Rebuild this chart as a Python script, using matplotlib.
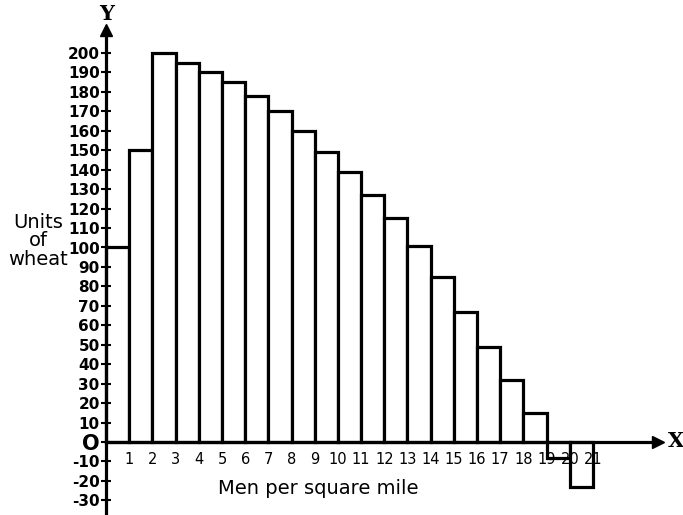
import matplotlib
matplotlib.use('Agg')
import matplotlib.pyplot as plt

# Men per square mile (left edge of each bar) and units of wheat
men = [0, 1, 2, 3, 4, 5, 6, 7, 8, 9, 10, 11, 12, 13, 14, 15, 16, 17, 18, 19, 20]
wheat = [100, 150, 200, 195, 190, 185, 178, 170, 160, 149, 139, 127, 115, 101,
         85, 67, 49, 32, 15, -8, -23]
x_ticks = [1, 2, 3, 4, 5, 6, 7, 8, 9, 10, 11, 12, 13, 14, 15, 16, 17, 18, 19, 20, 21]
y_ticks = [-30, -20, -10, 0, 10, 20, 30, 40, 50, 60, 70, 80, 90, 100,
           110, 120, 130, 140, 150, 160, 170, 180, 190, 200]

W, H = 683, 515
fig = plt.figure(figsize=(W / 100, H / 100), dpi=100)
ax = fig.add_axes([0, 0, 1, 1])
ax.set_axisbelow(False)

# pixel mapping
x0_px, xunit = 106, 23.19
y0_px, yunit = 442, 1.945
ax.set_xlim(-x0_px / xunit, (W - x0_px) / xunit)
ax.set_ylim(-(H - y0_px) / yunit, y0_px / yunit)

ax.bar(men, wheat, width=1, align='edge', color='white', edgecolor='black',
       linewidth=2.3, zorder=2)

for s in ['top', 'right']:
    ax.spines[s].set_visible(False)
for s in ['left', 'bottom']:
    ax.spines[s].set_position(('data', 0))
    ax.spines[s].set_linewidth(2.3)
    ax.spines[s].set_zorder(3)
ax.spines['left'].set_bounds(-40, 210)
ax.spines['bottom'].set_bounds(0, 23.6)

# arrow heads
ax.plot(0, 212, '^k', markersize=9, clip_on=False, zorder=4)
ax.plot(23.8, 0, '>k', markersize=9, clip_on=False, zorder=4)

ax.set_yticks(y_ticks)
ax.set_yticklabels([('O' if v == 0 else str(v)) for v in y_ticks])
ax.tick_params(axis='y', direction='inout', length=7, width=1.5, pad=1,
               labelsize=11)
for lab in ax.get_yticklabels():
    lab.set_fontweight('bold')
    if lab.get_text() == 'O':
        lab.set_fontsize(15)

ax.set_xticks(x_ticks)
ax.set_xticklabels([str(v) for v in x_ticks])
ax.tick_params(axis='x', length=0, pad=7, labelsize=10.5)

fig.text(38 / W, 1 - 241 / H, 'Units\nof\nwheat', ha='center', va='center',
         fontsize=14, linespacing=0.95)
fig.text(318 / W, 1 - 488 / H, 'Men per square mile', ha='center', va='center',
         fontsize=14)
fig.text(107 / W, 1 - 14 / H, 'Y', ha='center', va='center', fontsize=15,
         fontweight='bold', family='DejaVu Serif')
fig.text(676 / W, 1 - 441 / H, 'X', ha='center', va='center', fontsize=15,
         fontweight='bold', family='DejaVu Serif')

fig.savefig('out.png', dpi=100)
